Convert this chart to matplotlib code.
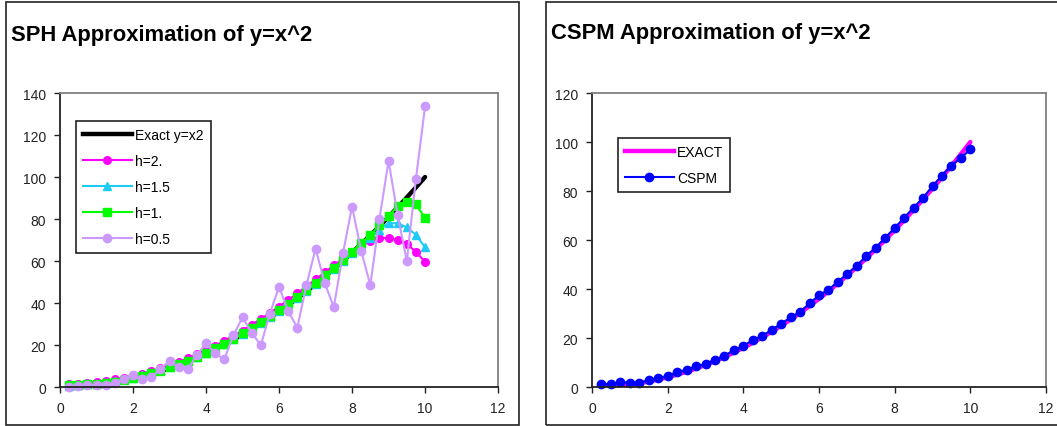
import matplotlib.pyplot as plt
from matplotlib.lines import Line2D
from matplotlib.patches import Rectangle

plt.rcParams["font.family"] = ["Liberation Sans", "DejaVu Sans"]

# x positions shared by every series
x_vals = [0.25, 0.5, 0.75, 1.0, 1.25, 1.5, 1.75, 2.0, 2.25, 2.5,
          2.75, 3.0, 3.25, 3.5, 3.75, 4.0, 4.25, 4.5, 4.75, 5.0,
          5.25, 5.5, 5.75, 6.0, 6.25, 6.5, 6.75, 7.0, 7.25, 7.5,
          7.75, 8.0, 8.25, 8.5, 8.75, 9.0, 9.25, 9.5, 9.75, 10.0]

exact = [0.0625, 0.25, 0.5625, 1.0, 1.5625, 2.25, 3.0625, 4.0, 5.0625, 6.25,
         7.5625, 9.0, 10.5625, 12.25, 14.0625, 16.0, 18.0625, 20.25, 22.5625, 25.0,
         27.5625, 30.25, 33.0625, 36.0, 39.0625, 42.25, 45.5625, 49.0, 52.5625, 56.25,
         60.0625, 64.0, 68.0625, 72.25, 76.5625, 81.0, 85.5625, 90.25, 95.0625, 100.0]

h2 = [1.4, 1.6, 2.0, 2.4, 2.9, 3.6, 4.4, 5.4, 6.4, 7.6,
      8.9, 10.4, 12.0, 13.7, 15.6, 17.6, 19.7, 22.0, 24.4, 26.9,
      29.6, 32.4, 35.3, 38.3, 41.4, 44.6, 47.9, 51.2, 54.6, 57.9,
      61.2, 64.4, 67.2, 69.5, 70.9, 71.0, 70.0, 68.0, 64.5, 59.5]

h15 = [0.7, 0.9, 1.2, 1.6, 2.1, 2.8, 3.6, 4.5, 5.5, 6.7,
       8.0, 9.4, 10.9, 12.6, 14.4, 16.3, 18.4, 20.6, 22.9, 25.3,
       27.9, 30.6, 33.4, 36.3, 39.3, 42.5, 45.8, 49.2, 52.7, 56.3,
       60.0, 63.8, 67.6, 71.2, 75.0, 78.0, 78.0, 76.0, 72.5, 66.5]

h1 = [0.8, 1.0, 1.2, 1.5, 2.0, 2.6, 3.4, 4.3, 5.3, 6.5,
      7.8, 9.3, 10.8, 12.5, 14.3, 16.3, 18.4, 20.6, 23.0, 25.5,
      28.1, 30.8, 33.6, 36.6, 39.7, 42.9, 46.2, 49.6, 53.2, 56.8,
      60.6, 64.5, 68.5, 72.5, 77.0, 81.5, 86.0, 88.0, 87.0, 80.5]

h05 = [0.0, 0.3, 0.8, 0.8, 1.0, 2.0, 3.7, 5.6, 3.7, 4.6,
       8.7, 12.3, 9.4, 8.4, 15.3, 20.8, 16.0, 13.2, 24.7, 33.2,
       25.9, 19.9, 35.0, 47.7, 36.1, 28.3, 48.5, 65.9, 49.6, 38.0,
       63.6, 85.9, 64.9, 48.5, 80.0, 107.7, 81.8, 60.0, 99.1, 133.6]

cspm = [1.4, 1.1, 2.0, 1.8, 1.8, 2.7, 3.7, 4.5, 6.1, 7.0,
        8.6, 9.3, 11.2, 12.7, 15.1, 16.8, 19.2, 20.9, 23.3, 25.9,
        28.4, 30.7, 34.1, 37.5, 39.7, 43.0, 46.2, 49.5, 53.6, 56.9,
        61.0, 64.9, 69.1, 73.2, 77.2, 82.0, 86.3, 90.4, 93.5, 97.0]

fig = plt.figure(figsize=(10.57, 4.27), dpi=100)

# panel frames
fig.patches.append(Rectangle((0.0057, 0.0023), 0.4853, 0.9906, transform=fig.transFigure,
                             fill=False, edgecolor="#222222", lw=1.2))
fig.patches.append(Rectangle((0.5166, 0.0023), 0.49, 0.9906, transform=fig.transFigure,
                             fill=False, edgecolor="#222222", lw=1.2))


def style_axes(ax, ymax):
    ax.set_xlim(0, 12)
    ax.set_ylim(0, ymax)
    ax.set_xticks(range(0, 13, 2))
    ax.set_yticks(range(0, ymax + 1, 20))
    for side in ["left", "bottom"]:
        ax.spines[side].set_color("#222222")
        ax.spines[side].set_linewidth(1.3)
    for side in ["top", "right"]:
        ax.spines[side].set_color("#808080")
        ax.spines[side].set_linewidth(1.3)
    ax.tick_params(direction="out", length=4, width=1, labelsize=10, colors="#222222", pad=6)


# left: SPH
ax1 = fig.add_axes([0.0568, 0.0913, 0.4144, 0.6885])
style_axes(ax1, 140)
ax1.plot(x_vals, exact, color="black", lw=3.2, solid_capstyle="round")
ax1.plot(x_vals, h2, color="#FF00FF", lw=1.5, marker="o", ms=5.5, clip_on=False)
ax1.plot(x_vals, h15, color="#1ECBF5", lw=1.5, marker="^", ms=5.5, clip_on=False)
ax1.plot(x_vals, h1, color="#00FF00", lw=1.5, marker="s", ms=6, clip_on=False)
ax1.plot(x_vals, h05, color="#CC99FF", lw=1.5, marker="o", ms=6, clip_on=False)

handles1 = [
    Line2D([], [], color="black", lw=3.2),
    Line2D([], [], color="#FF00FF", lw=1.5, marker="o", ms=5.5),
    Line2D([], [], color="#1ECBF5", lw=1.5, marker="^", ms=5.5),
    Line2D([], [], color="#00FF00", lw=1.5, marker="s", ms=6),
    Line2D([], [], color="#CC99FF", lw=1.5, marker="o", ms=6),
]
leg1 = ax1.legend(handles1, ["Exact y=x2", "h=2.", "h=1.5", "h=1.", "h=0.5"],
                  loc="upper left", bbox_to_anchor=(0.0365, 0.905), fontsize=10,
                  frameon=True, fancybox=False, framealpha=1, edgecolor="#222222",
                  handlelength=3.5, handletextpad=0.25, labelspacing=0.87,
                  borderpad=0.5, borderaxespad=0)
leg1.get_frame().set_linewidth(1.2)

fig.text(0.0104, 1 - 36 / 427, "SPH Approximation of y=x^2", fontsize=15.8,
         fontweight="bold", va="center", ha="left")

# right: CSPM
ax2 = fig.add_axes([0.5601, 0.0913, 0.4295, 0.6885])
style_axes(ax2, 120)
ax2.plot(x_vals, exact, color="#FF00FF", lw=3.2, solid_capstyle="round")
ax2.plot(x_vals, cspm, color="#0000FF", lw=1.5, marker="o", ms=6, clip_on=False)

handles2 = [
    Line2D([], [], color="#FF00FF", lw=3.2),
    Line2D([], [], color="#0000FF", lw=1.5, marker="o", ms=6),
]
leg2 = ax2.legend(handles2, ["EXACT", "CSPM"],
                  loc="upper left", bbox_to_anchor=(0.0573, 0.847), fontsize=10,
                  frameon=True, fancybox=False, framealpha=1, edgecolor="#222222",
                  handlelength=3.5, handletextpad=0.25, labelspacing=0.87,
                  borderpad=0.5, borderaxespad=0)
leg2.get_frame().set_linewidth(1.2)

fig.text(551 / 1057, 1 - 33 / 427, "CSPM Approximation of y=x^2", fontsize=15.8,
         fontweight="bold", va="center", ha="left")

fig.savefig("out.png", dpi=100)
